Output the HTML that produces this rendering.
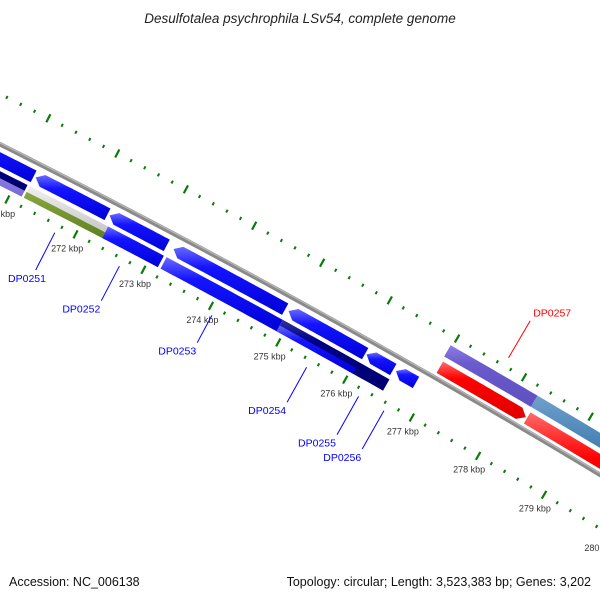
<!DOCTYPE html>
<html><head><meta charset="utf-8"><style>
html,body{margin:0;padding:0;background:#fff;}
svg{display:block;font-family:"Liberation Sans","DejaVu Sans",sans-serif;}
</style></head><body>
<svg id="chart" width="600" height="600" viewBox="0 0 600 600" xmlns="http://www.w3.org/2000/svg">
<defs>
<linearGradient id="g-blue" x1="0" y1="0" x2="0" y2="1"><stop offset="0" stop-color="#6a6aff"/><stop offset="0.3" stop-color="#1414ff"/><stop offset="1" stop-color="#0000d8"/></linearGradient>
<linearGradient id="g-navy" x1="0" y1="0" x2="0" y2="1"><stop offset="0" stop-color="#3030a0"/><stop offset="0.3" stop-color="#000085"/><stop offset="1" stop-color="#000070"/></linearGradient>
<linearGradient id="g-red" x1="0" y1="0" x2="0" y2="1"><stop offset="0" stop-color="#ff6a6a"/><stop offset="0.3" stop-color="#ff0000"/><stop offset="1" stop-color="#e00000"/></linearGradient>
<linearGradient id="g-purple" x1="0" y1="0" x2="0" y2="1"><stop offset="0" stop-color="#8c7ee6"/><stop offset="0.3" stop-color="#6a5acd"/><stop offset="1" stop-color="#5f50c0"/></linearGradient>
<linearGradient id="g-lpurple" x1="0" y1="0" x2="0" y2="1"><stop offset="0" stop-color="#9a90e8"/><stop offset="1" stop-color="#7a6ad8"/></linearGradient>
<linearGradient id="g-steel" x1="0" y1="0" x2="0" y2="1"><stop offset="0" stop-color="#6fa0cc"/><stop offset="0.3" stop-color="#4682b4"/><stop offset="1" stop-color="#3d74a2"/></linearGradient>
<linearGradient id="g-gray" x1="0" y1="0" x2="0" y2="1"><stop offset="0" stop-color="#f0f0f0"/><stop offset="1" stop-color="#c8c8c8"/></linearGradient>
<linearGradient id="g-olive" x1="0" y1="0" x2="0" y2="1"><stop offset="0" stop-color="#8aa840"/><stop offset="1" stop-color="#5f8020"/></linearGradient>
</defs>
<text x="300" y="23" text-anchor="middle" font-size="13.5" font-style="italic" fill="#222">Desulfotalea psychrophila LSv54, complete genome</text>
<g id="ticks"></g>
<g id="backbone"></g>
<g id="features"></g>
<g id="labels"></g>
<text x="9" y="586" font-size="12.5" fill="#111">Accession: NC_006138</text>
<text x="591" y="586" text-anchor="end" font-size="12.5" fill="#111">Topology: circular; Length: 3,523,383 bp; Genes: 3,202</text>
</svg>
<script>
// feature data (kbp)
const featStart = [270.0,271.2,272.28,273.22,274.92,276.08,276.52, 270.0,270.0,271.18,271.18,272.33,273.19,274.91,274.91, 276.99,278.3, 276.97,278.27];
const featEnd   = [271.17,272.25,273.12,274.87,276.06,276.48,276.82, 271.15,271.15,272.33,272.33,273.15,274.91,276.5,276.05, 278.28,282.0, 278.27,282.0];
const featTrack = ["in1","in1","in1","in1","in1","in1","in1", "in2top","in2bot","in2top","in2bot","in2","in2","in2","in2bot", "out1","out1","out2","out2"];
const featColor = ["blue","blue","blue","blue","blue","blue","blue", "navy","lpurple","gray","olive","blue","blue","navy","blue", "red","red","purple","steel"];
const featDir   = [-1,-1,-1,-1,-1,-1,-1, 0,0,0,0,0,0,0,0, 1,1, 0,0];
// gene labels
const labelNames = ["DP0251","DP0252","DP0253","DP0254","DP0255","DP0256","DP0257"];
const labelPos   = [271.75,272.7,274.07,275.48,276.26,276.64,277.7];
const labelSide  = [-1,-1,-1,-1,-1,-1,1];
const labelLen   = [42,39,31,40,44,44,43];
const labelColor = ["#0000ff","#0000ff","#0000ff","#0000ff","#0000ff","#0000ff","#ff0000"];
// ticks
const tickMin = 268, tickMax = 282.2, tickStep = 0.2;
const tickLabelKbp = [270,271,272,273,274,275,276,277,278,279,280,281];

const NS = "http://www.w3.org/2000/svg";
const R = 8800, CX = -3942, CY = 8012;
const PHI0 = Math.atan2(-7709, 4242);
const PX_PER_KBP = 77;
function ang(k){ return PHI0 + (k - 275) * PX_PER_KBP / R; }
function pt(k, off){ const a = ang(k), r = R + off; return [CX + r*Math.cos(a), CY + r*Math.sin(a)]; }
const tracks = { in1:[-20,-7], in2:[-37,-24], in2top:[-30.5,-24], in2bot:[-37,-30.5], out1:[5,18], out2:[23,36] };

function mk(tag, attrs, parent){ const e = document.createElementNS(NS, tag); for (const k in attrs) e.setAttribute(k, attrs[k]); parent.appendChild(e); return e; }

// backbone
const bb = document.getElementById('backbone');
{
  let d1 = "", d2 = "";
  for (let i = 0; i <= 60; i++){ const k = 268 + i*0.25; const p = pt(k, 0); d1 += (i? "L":"M") + p[0].toFixed(2) + " " + p[1].toFixed(2); }
  const line = mk('path', {d:d1, fill:'none', stroke:'#8a8a8a', 'stroke-width':4.5}, bb);
  
  
  for (let i = 0; i <= 60; i++){ const k = 268 + i*0.25; const p = pt(k, 1.2); d2 += (i? "L":"M") + p[0].toFixed(2) + " " + p[1].toFixed(2); }
  const hl = mk('path', {d:d2, fill:'none', stroke:'#b8b8b8', 'stroke-width':1.2}, bb);
  
  
}

// ticks
const tg = document.getElementById('ticks');
for (let k = tickMin; k <= tickMax + 1e-6; k += tickStep){
  const kk = Math.round(k*10)/10;
  const major = Math.abs(kk - Math.round(kk)) < 1e-6;
  const len = major ? 4.5 : 1.6;
  [45, -46].forEach(function(base){
    const a = pt(kk, base - len), b = pt(kk, base + len);
    const t = mk('line', {x1:a[0].toFixed(2), y1:a[1].toFixed(2), x2:b[0].toFixed(2), y2:b[1].toFixed(2), stroke:'#0b7a0b', 'stroke-width':major?2.2:2}, tg);
    
    
  });
}
tickLabelKbp.forEach(function(k){
  const p = pt(k, -62);
  const t = mk('text', {x:(p[0]-1).toFixed(1), y:(p[1]+3).toFixed(1), 'text-anchor':'middle', 'font-size':'9', fill:'#333'}, tg);
  t.textContent = k + " kbp";
  
  
});

// features
const fg = document.getElementById('features');
function arcPts(k1, k2, off, n){ const a = []; for (let i = 0; i <= n; i++){ a.push(pt(k1 + (k2-k1)*i/n, off)); } return a; }
for (let i = 0; i < featStart.length; i++){
  const k1 = featStart[i], k2 = featEnd[i], tr = tracks[featTrack[i]];
  const inner = tr[0], outer = tr[1], mid = (inner+outer)/2, h = 0.1;
  let pts = [];
  if (featDir[i] === -1){
    pts = arcPts(k1+h, k2, outer, 20).concat(arcPts(k2, k1+h, inner, 20)); pts.push(pt(k1, mid));
  } else if (featDir[i] === 1){
    pts = arcPts(k1, k2-h, outer, 20); pts.push(pt(k2, mid)); pts = pts.concat(arcPts(k2-h, k1, inner, 20));
  } else {
    pts = arcPts(k1, k2, outer, 20).concat(arcPts(k2, k1, inner, 20));
  }
  const d = "M" + pts.map(p => p[0].toFixed(2) + " " + p[1].toFixed(2)).join("L") + "Z";
  const f = mk('path', {d:d, fill:'url(#g-' + featColor[i] + ')'}, fg);
  
  
}

// gene labels
const lg = document.getElementById('labels');
for (let i = 0; i < labelNames.length; i++){
  const s = labelSide[i];
  const a = pt(labelPos[i], s*54), b = pt(labelPos[i], s*(54 + labelLen[i]));
  const l = mk('line', {x1:a[0].toFixed(1), y1:a[1].toFixed(1), x2:b[0].toFixed(1), y2:b[1].toFixed(1), stroke:labelColor[i], 'stroke-width':1}, lg);
  
  
  let t;
  if (s < 0){
    t = mk('text', {x:Math.max(b[0]-1, 46).toFixed(1), y:(b[1]+12).toFixed(1), 'text-anchor':'end', 'font-size':'10.5', fill:labelColor[i]}, lg);
  } else {
    t = mk('text', {x:(b[0]+3).toFixed(1), y:(b[1]-4).toFixed(1), 'text-anchor':'start', 'font-size':'10.5', fill:labelColor[i]}, lg);
  }
  t.textContent = labelNames[i];
  
  
}
</script>
</body></html>
